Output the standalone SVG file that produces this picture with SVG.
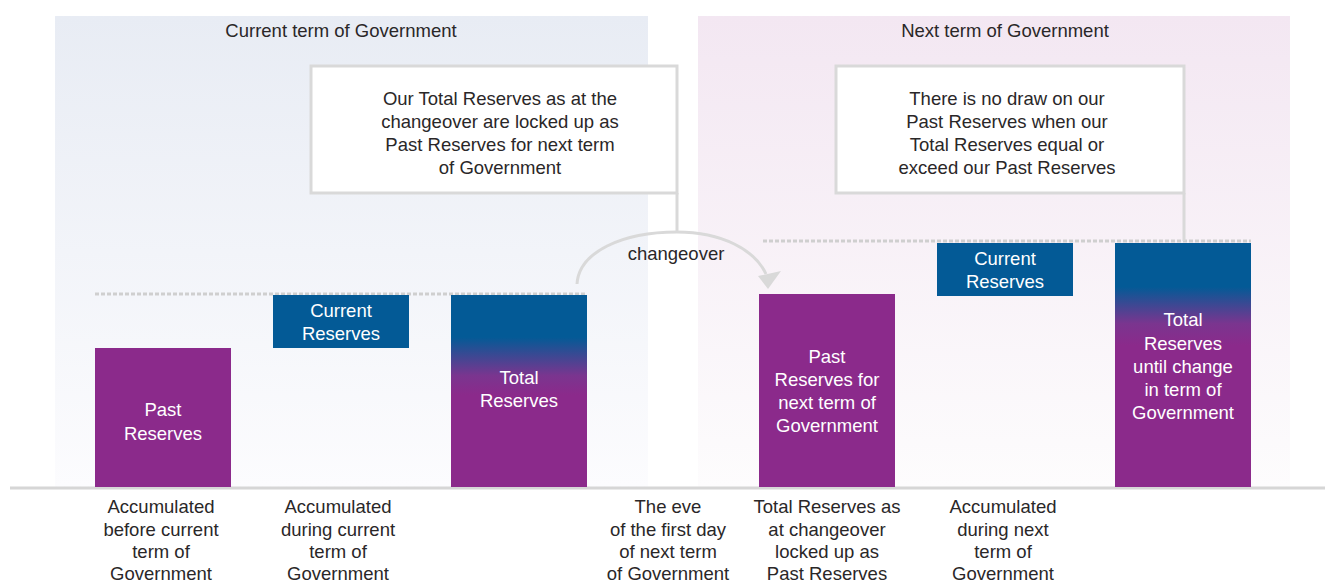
<svg xmlns="http://www.w3.org/2000/svg" width="1325" height="581" viewBox="0 0 1325 581">
<defs>
<style>
text{font-family:"Liberation Sans",Arial,sans-serif;font-size:18.5px;text-anchor:middle;dominant-baseline:central}
.dk{fill:#2a2728}
.wt{fill:#ffffff}
.box{fill:#ffffff;stroke:#d9d9d9;stroke-width:3}
.conn{fill:none;stroke:#d9d9d9;stroke-width:3}
.dot{fill:none;stroke:#cfcfcf;stroke-width:3;stroke-dasharray:4 2}
.purple{fill:#8b2a8b}
.blue{fill:#035a96}
</style>
<linearGradient id="gL" x1="0" y1="0" x2="0" y2="1">
<stop offset="0" stop-color="#e8ecf4"/><stop offset="1" stop-color="#fcfcfe"/>
</linearGradient>
<linearGradient id="gR" x1="0" y1="0" x2="0" y2="1">
<stop offset="0" stop-color="#f3e7f2"/><stop offset="1" stop-color="#fdfcfd"/>
</linearGradient>
<linearGradient id="gT1" gradientUnits="userSpaceOnUse" x1="0" y1="295" x2="0" y2="487">
<stop offset="0" stop-color="#035a96"/><stop offset="0.22" stop-color="#035a96"/><stop offset="0.42" stop-color="#7a358f"/><stop offset="0.52" stop-color="#8b2a8b"/><stop offset="1" stop-color="#8b2a8b"/>
</linearGradient>
<linearGradient id="gT2" gradientUnits="userSpaceOnUse" x1="0" y1="243" x2="0" y2="487">
<stop offset="0" stop-color="#035a96"/><stop offset="0.18" stop-color="#035a96"/><stop offset="0.33" stop-color="#7a358f"/><stop offset="0.42" stop-color="#8b2a8b"/><stop offset="1" stop-color="#8b2a8b"/>
</linearGradient>
</defs>
<rect width="1325" height="581" fill="#ffffff"/>
<g id="panel-current">
<rect x="55" y="16" width="593" height="471" fill="url(#gL)"/>
<text class="dk" x="341" y="30">Current term of Government</text>
</g>
<g id="panel-next">
<rect x="698" y="16" width="592" height="471" fill="url(#gR)"/>
<text class="dk" x="1005" y="30">Next term of Government</text>
</g>
<g id="connectors">
<line class="dot" x1="95" y1="294" x2="587" y2="294"/>
<line class="dot" x1="763" y1="241" x2="1251" y2="241"/>
<path class="conn" d="M677,193 V232"/>
<path class="conn" d="M1184,193 V241"/>
<path class="conn" d="M577,284 C579,252 622,232 677,232 C722,232 755,250 766,274"/>
<path d="M758,276 L781,271 L768,289 Z" fill="#d9d9d9"/>
<line x1="10" y1="488" x2="1325" y2="488" stroke="#d6d6d6" stroke-width="3"/>
</g>
<g id="box-locked">
<rect class="box" x="311" y="66" width="366" height="127"/>
<text class="dk" x="500" y="98">Our Total Reserves as at the</text>
<text class="dk" x="500" y="121">changeover are locked up as</text>
<text class="dk" x="500" y="144">Past Reserves for next term</text>
<text class="dk" x="500" y="167">of Government</text>
</g>
<g id="box-nodraw">
<rect class="box" x="836" y="66" width="348" height="127"/>
<text class="dk" x="1007" y="98">There is no draw on our</text>
<text class="dk" x="1007" y="121">Past Reserves when our</text>
<text class="dk" x="1007" y="144">Total Reserves equal or</text>
<text class="dk" x="1007" y="167">exceed our Past Reserves</text>
</g>
<g id="changeover-label">
<text class="dk" x="676" y="253">changeover</text>
</g>
<g id="bar-past">
<rect class="purple" x="95" y="348" width="136" height="139"/>
<text class="wt" x="163" y="409">Past</text>
<text class="wt" x="163" y="433">Reserves</text>
</g>
<g id="bar-current">
<rect class="blue" x="273" y="295" width="136" height="53"/>
<text class="wt" x="341" y="310">Current</text>
<text class="wt" x="341" y="333">Reserves</text>
</g>
<g id="bar-total">
<rect x="451" y="295" width="136" height="192" fill="url(#gT1)"/>
<text class="wt" x="519" y="377">Total</text>
<text class="wt" x="519" y="400">Reserves</text>
</g>
<g id="bar-past-next">
<rect class="purple" x="759" y="294" width="136" height="193"/>
<text class="wt" x="827" y="356">Past</text>
<text class="wt" x="827" y="379">Reserves for</text>
<text class="wt" x="827" y="402">next term of</text>
<text class="wt" x="827" y="425">Government</text>
</g>
<g id="bar-current-next">
<rect class="blue" x="937" y="243" width="136" height="53"/>
<text class="wt" x="1005" y="258">Current</text>
<text class="wt" x="1005" y="281">Reserves</text>
</g>
<g id="bar-total-next">
<rect x="1115" y="243" width="136" height="244" fill="url(#gT2)"/>
<text class="wt" x="1183" y="319">Total</text>
<text class="wt" x="1183" y="343">Reserves</text>
<text class="wt" x="1183" y="366">until change</text>
<text class="wt" x="1183" y="389">in term of</text>
<text class="wt" x="1183" y="412">Government</text>
</g>
<g id="label-1">
<text class="dk" x="161" y="506">Accumulated</text>
<text class="dk" x="161" y="529">before current</text>
<text class="dk" x="161" y="551">term of</text>
<text class="dk" x="161" y="573">Government</text>
</g>
<g id="label-2">
<text class="dk" x="338" y="506">Accumulated</text>
<text class="dk" x="338" y="529">during current</text>
<text class="dk" x="338" y="551">term of</text>
<text class="dk" x="338" y="573">Government</text>
</g>
<g id="label-3">
<text class="dk" x="668" y="506">The eve</text>
<text class="dk" x="668" y="529">of the first day</text>
<text class="dk" x="668" y="551">of next term</text>
<text class="dk" x="668" y="573">of Government</text>
</g>
<g id="label-4">
<text class="dk" x="827" y="506">Total Reserves as</text>
<text class="dk" x="827" y="529">at changeover</text>
<text class="dk" x="827" y="551">locked up as</text>
<text class="dk" x="827" y="573">Past Reserves</text>
</g>
<g id="label-5">
<text class="dk" x="1003" y="506">Accumulated</text>
<text class="dk" x="1003" y="529">during next</text>
<text class="dk" x="1003" y="551">term of</text>
<text class="dk" x="1003" y="573">Government</text>
</g>
</svg>
